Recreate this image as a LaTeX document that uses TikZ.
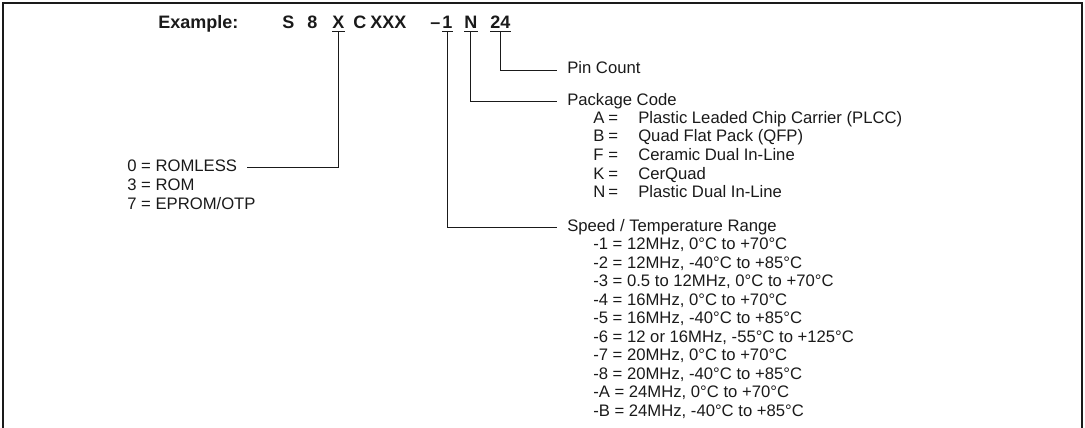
\documentclass[tikz,border=0pt]{standalone}
\usepackage{fontspec}
\setmainfont{Liberation Sans}
\usepackage{tikz}
\usetikzlibrary{positioning,calc}
\definecolor{PartInk}{HTML}{1A1A1A}

\begin{document}
\begin{tikzpicture}[x=0.75pt,y=-0.75pt,
  code/.style={inner sep=0pt,anchor=base west,font=\fontsize{13.5}{16}\selectfont\bfseries,text=PartInk},
  lbl/.style={inner sep=0pt,anchor=base west,font=\fontsize{12.5}{14}\selectfont,text=PartInk},
  lead/.style={draw=PartInk,line width=0.6pt},
  uline/.style={draw=PartInk,line width=0.8pt},
]
\useasboundingbox (0,0) rectangle (1085,428);
\draw[PartInk,line width=1.1pt] (3,428) -- (3,3) -- (1082,3) -- (1082,428);

% part number
\node[code] (ex) at (158,28.5) {Example:};
\node[code] (s) at (282,28.5) {S};
\node[code] (eight) at (307,28.5) {8};
\node[code] (x) at (332,28.5) {X};
\node[code] (c) at (353,28.5) {C};
\node[code] (xxx) at (370,28.5) {XXX};
\node[code] (dash) at (430,28.5) {\textendash};
\node[code] (one) at (442,28.5) {1};
\node[code] (n) at (464,28.5) {N};
\node[code] (pins) at (490,28.5) {24};

\foreach \f in {x,one,n,pins}{
  \draw[uline] ([yshift=-2.6pt]\f.base west) -- ([yshift=-2.6pt]\f.base east);
  \coordinate (\f u) at ([yshift=-2.6pt]\f.base);
}

% labels
\node[lbl] (pin) at (567,74) {Pin Count};
\node[lbl] (pkg) at (567,105) {Package Code};
\node[lbl] (spd) at (567,231) {Speed / Temperature Range};
\node[lbl] (rom0) at (127,171) {0 = ROMLESS};
\node[lbl] (rom3) at (127,190) {3 = ROM};
\node[lbl] (rom7) at (127,209) {7 = EPROM/OTP};

\foreach \k/\d [count=\i] in {A/Plastic Leaded Chip Carrier (PLCC),B/Quad Flat Pack (QFP),F/Ceramic Dual In-Line,K/CerQuad,N/Plastic Dual In-Line}
  \node[lbl] (pk\i) at (593,{105+18.5*\i}) {\makebox[11.25pt][l]{\k}\makebox[22.5pt][l]{=}\d};

\foreach \r [count=\i] in {{-1 = 12MHz, 0°C to +70°C},{-2 = 12MHz, -40°C to +85°C},{-3 = 0.5 to 12MHz, 0°C to +70°C},{-4 = 16MHz, 0°C to +70°C},{-5 = 16MHz, -40°C to +85°C},{-6 = 12 or 16MHz, -55°C to +125°C},{-7 = 20MHz, 0°C to +70°C},{-8 = 20MHz, -40°C to +85°C},{-A = 24MHz, 0°C to +70°C},{-B = 24MHz, -40°C to +85°C}}
  \node[lbl] (sp\i) at (593,{231+18.5*\i}) {\r};

% leaders
\draw[lead] (xu) |- ([xshift=7.5pt]rom0.mid east);
\draw[lead] (oneu) |- ([xshift=-7.5pt]spd.mid west);
\draw[lead] (nu) |- ([xshift=-7.5pt]pkg.mid west);
\draw[lead] (pinsu) |- ([xshift=-7.5pt]pin.mid west);
\end{tikzpicture}
\end{document}
